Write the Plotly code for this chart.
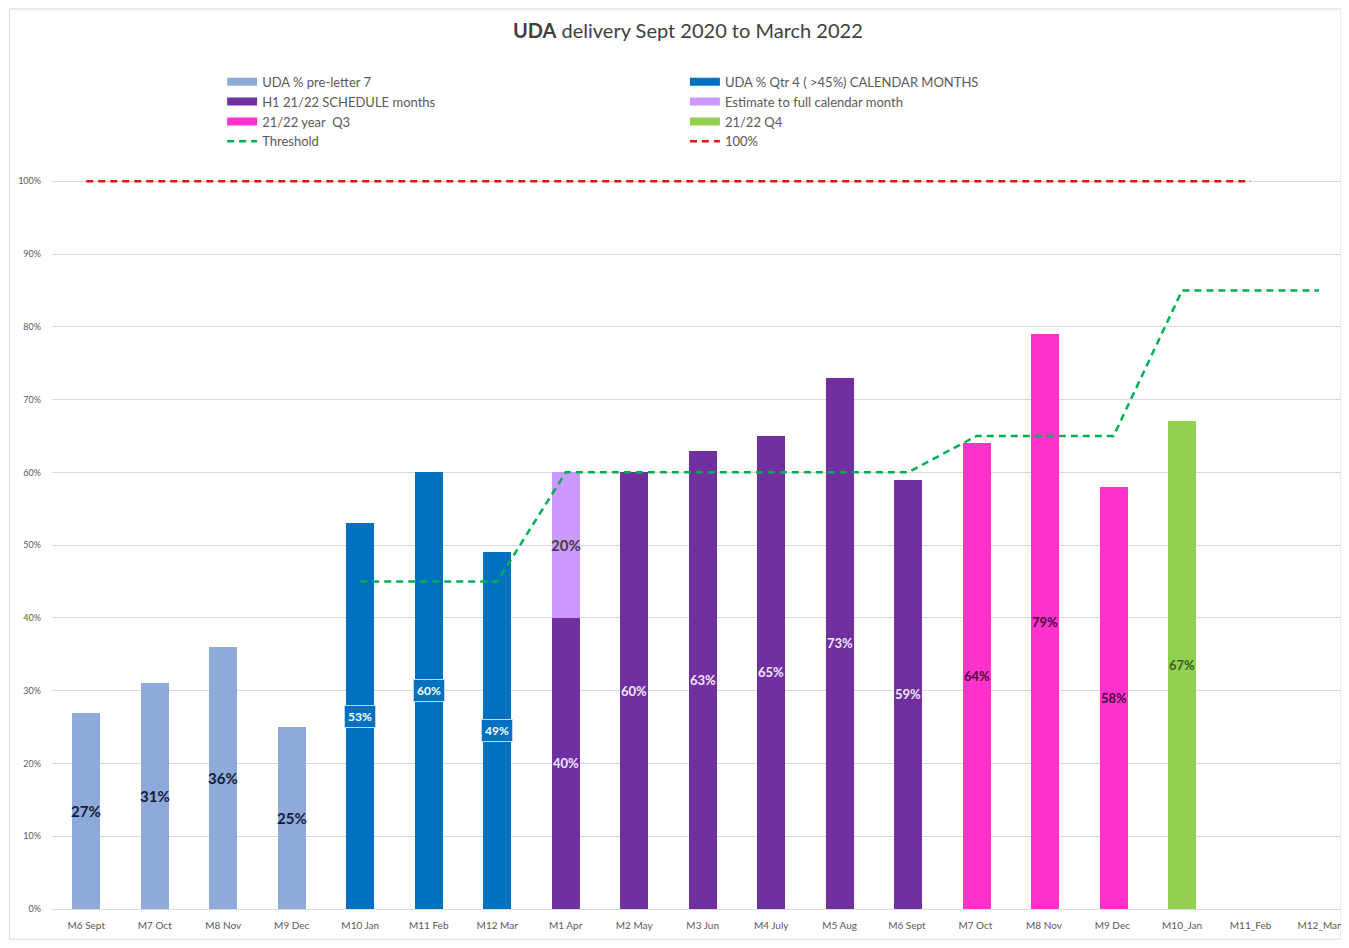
import plotly.graph_objects as go

categories = ["M6 Sept", "M7 Oct", "M8 Nov", "M9 Dec", "M10 Jan", "M11 Feb", "M12 Mar",
              "M1 Apr", "M2 May", "M3 Jun", "M4 July", "M5 Aug", "M6 Sept ", "M7 Oct ",
              "M8 Nov ", "M9 Dec ", "M10_Jan", "M11_Feb", "M12_Mar"]

y_tick_vals = [0, 10, 20, 30, 40, 50, 60, 70, 80, 90, 100]
y_tick_text = ["0%", "10%", "20%", "30%", "40%", "50%", "60%", "70%", "80%", "90%", "100%"]

pre_letter_cats = ["M6 Sept", "M7 Oct", "M8 Nov", "M9 Dec"]
pre_letter_vals = [27, 31, 36, 25]

qtr4_cats = ["M10 Jan", "M11 Feb", "M12 Mar"]
qtr4_vals = [53, 60, 49]

h1_cats = ["M1 Apr", "M2 May", "M3 Jun", "M4 July", "M5 Aug", "M6 Sept "]
h1_vals = [40, 60, 63, 65, 73, 59]

estimate_cats = ["M1 Apr"]
estimate_vals = [20]

q3_cats = ["M7 Oct ", "M8 Nov ", "M9 Dec "]
q3_vals = [64, 79, 58]

q4_cats = ["M10_Jan"]
q4_vals = [67]

threshold_cats = ["M10 Jan", "M11 Feb", "M12 Mar", "M1 Apr", "M2 May", "M3 Jun", "M4 July",
                  "M5 Aug", "M6 Sept ", "M7 Oct ", "M8 Nov ", "M9 Dec ", "M10_Jan", "M11_Feb", "M12_Mar"]
threshold_vals = [45, 45, 45, 60, 60, 60, 60, 60, 60, 65, 65, 65, 85, 85, 85]

hundred_cats = categories[:-1]
hundred_vals = [100] * len(hundred_cats)

FONT = "Lato"
BW = 0.41

fig = go.Figure()

def add_bar(name, cats, vals, color, legend):
    fig.add_trace(go.Bar(x=cats, y=vals, name=name, marker=dict(color=color, line=dict(width=0)),
                         width=[BW] * len(cats), showlegend=False))
    # wide rectangular legend swatch
    fig.add_trace(go.Scatter(x=[None], y=[None], mode="lines", name=name,
                             line=dict(color=color, width=8), legend=legend))

add_bar("UDA % pre-letter 7", pre_letter_cats, pre_letter_vals, "#8eaadb", "legend")
add_bar("UDA % Qtr 4 ( >45%) CALENDAR MONTHS", qtr4_cats, qtr4_vals, "#0070c0", "legend2")
add_bar("H1 21/22 SCHEDULE months", h1_cats, h1_vals, "#7030a0", "legend")
add_bar("Estimate to full calendar month", estimate_cats, estimate_vals, "#cc99ff", "legend2")
add_bar("21/22 year  Q3", q3_cats, q3_vals, "#ff33cc", "legend")
add_bar("21/22 Q4", q4_cats, q4_vals, "#92d050", "legend2")

fig.add_trace(go.Scatter(x=threshold_cats, y=threshold_vals, mode="lines", name="Threshold",
                         line=dict(color="#00b050", width=2.5, dash="7px,5px"), legend="legend"))
fig.add_trace(go.Scatter(x=hundred_cats, y=hundred_vals, mode="lines", name="100%",
                         line=dict(color="#ee1111", width=2.5, dash="7px,5px"), legend="legend2"))

# data labels
def add_labels(cats, vals, base, color, size, bg=None, border=None):
    for c, v, b in zip(cats, vals, base):
        txt = f"<b>{v}%</b>"
        kw = {}
        if bg:
            kw = dict(bgcolor=bg, bordercolor=border, borderwidth=1, borderpad=3)
        fig.add_annotation(x=c, y=b + v / 2, text=txt, showarrow=False,
                           font=dict(color=color, size=size, family=FONT), **kw)

add_labels(pre_letter_cats, pre_letter_vals, [0] * 4, "#141a3c", 15)
add_labels(qtr4_cats, qtr4_vals, [0] * 3, "white", 12, bg="#0070c0", border="#bdd7ee")
add_labels(h1_cats, h1_vals, [0] * 6, "#f0e8f8", 13)
add_labels(estimate_cats, estimate_vals, [h1_vals[0]], "#404040", 15)
add_labels(q3_cats, q3_vals, [0] * 3, "#4a0a40", 13)
add_labels(q4_cats, q4_vals, [0], "#3d5a26", 13)

# outer border
fig.add_shape(type="rect", xref="paper", yref="paper", x0=-0.033, x1=1.0, y0=-0.041, y1=1.2245,
              line=dict(color="#d9d9d9", width=1), fillcolor="rgba(0,0,0,0)", layer="below")

legend_common = dict(yanchor="top", xanchor="left", orientation="v", traceorder="normal",
                     font=dict(size=13, color="#595959", family=FONT), tracegroupgap=0,
                     bgcolor="rgba(0,0,0,0)", itemwidth=30)

fig.update_layout(
    width=1333, height=932,
    paper_bgcolor="white", plot_bgcolor="white",
    margin=dict(l=44, r=0, t=166, b=31),
    barmode="stack",
    font=dict(family=FONT, color="#595959"),
    title=dict(text="<b>UDA</b> delivery Sept 2020 to March 2022", x=0.51, xanchor="center",
               y=0.975, yanchor="middle", font=dict(size=20, color="#404040", family=FONT)),
    legend=dict(x=0.132, y=1.146, **legend_common),
    legend2=dict(x=0.491, y=1.146, **legend_common),
    xaxis=dict(type="category", categoryorder="array", categoryarray=categories,
               range=[-0.5, 18.32], tickfont=dict(size=10, color="#595959"),
               showline=True, linecolor="#d9d9d9", showgrid=False, ticks="",
               ticklabelstandoff=7),
    yaxis=dict(range=[0, 101], tickmode="array", tickvals=y_tick_vals, ticktext=y_tick_text,
               tickfont=dict(size=9, color="#595959"),
               gridcolor="#d9d9d9", zeroline=False, showline=False, ticks="",
               ticklabelstandoff=10),
    showlegend=True,
)

fig.write_html("out.html")
